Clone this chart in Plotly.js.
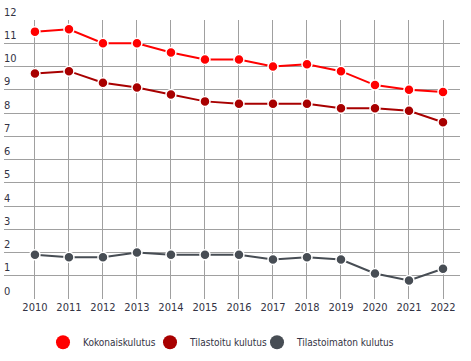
<!DOCTYPE html>
<html>
<head>
<meta charset="utf-8">
<script src="https://cdn.plot.ly/plotly-3.0.1.min.js"></script>
<style>html,body{margin:0;padding:0;background:#fff;}#chart{width:471px;height:361px;}</style>
</head>
<body>
<div id="chart"></div>
<script>
const years = [2010, 2011, 2012, 2013, 2014, 2015, 2016, 2017, 2018, 2019, 2020, 2021, 2022];
const seriesNames = ["Kokonaiskulutus", "Tilastoitu kulutus", "Tilastoimaton kulutus"];
const kokonais = [11.5, 11.6, 11.0, 11.0, 10.6, 10.3, 10.3, 10.0, 10.1, 9.8, 9.2, 9.0, 8.9];
const tilastoitu = [9.7, 9.8, 9.3, 9.1, 8.8, 8.5, 8.4, 8.4, 8.4, 8.2, 8.2, 8.1, 7.6];
const tilastoimaton = [1.9, 1.8, 1.8, 2.0, 1.9, 1.9, 1.9, 1.7, 1.8, 1.7, 1.1, 0.8, 1.3];
const yTicks = [0, 1, 2, 3, 4, 5, 6, 7, 8, 9, 10, 11, 12];

const colors = ["#ff0000", "#a80000", "#474d54"];
const values = [kokonais, tilastoitu, tilastoimaton];
const fontFam = "'DejaVu Sans Condensed', 'Liberation Sans Narrow', Arial, sans-serif";
const textColor = "#333344";

const traces = [];
values.forEach((v, i) => {
  traces.push({
    x: years, y: v, type: "scatter", mode: "lines+markers",
    name: seriesNames[i], showlegend: false,
    line: {color: colors[i], width: 2},
    marker: {color: colors[i], size: 10, line: {color: "#ffffff", width: 1.5}},
    hoverinfo: "x+y"
  });
});
values.forEach((v, i) => {
  traces.push({
    x: [null], y: [null], type: "scatter", mode: "markers",
    name: seriesNames[i], showlegend: true,
    marker: {color: colors[i], size: 14}
  });
});
// blank spacer entry so the last legend label is not clipped
traces.push({
  x: [null], y: [null], type: "scatter", mode: "markers",
  name: " ", showlegend: true,
  marker: {color: "rgba(0,0,0,0)", size: 1}
});

const yLabelAnnotations = yTicks.map(t => ({
  xref: "paper", x: 0, xanchor: "left", xshift: -2,
  yref: "y", y: t, yanchor: "middle", yshift: 8,
  text: String(t), showarrow: false,
  font: {family: fontFam, size: 11, color: textColor}
}));

const layout = {
  width: 471, height: 361,
  margin: {l: 4, r: 11, t: 20, b: 55},
  paper_bgcolor: "#ffffff", plot_bgcolor: "#ffffff",
  font: {family: fontFam, size: 11, color: textColor},
  xaxis: {
    range: [2009.09, 2022.5], tickvals: years, ticktext: years.map(String),
    showgrid: true, gridcolor: "#a0a0a0", gridwidth: 1,
    zeroline: false, showline: false, ticks: "",
    tickfont: {family: fontFam, size: 11, color: textColor}
  },
  yaxis: {
    range: [0, 12], tickvals: yTicks,
    showgrid: true, gridcolor: "#a0a0a0", gridwidth: 1,
    zeroline: false, showline: false, ticks: "", showticklabels: false
  },
  annotations: yLabelAnnotations,
  showlegend: true,
  legend: {
    orientation: "h", x: 0.1076, xanchor: "left", y: -0.155, yanchor: "middle",
    font: {family: fontFam, size: 10, color: textColor},
    itemsizing: "trace", entrywidth: 62, bgcolor: "rgba(0,0,0,0)"
  }
};

Plotly.newPlot("chart", traces, layout, {displayModeBar: false, staticPlot: true});
</script>
</body>
</html>
